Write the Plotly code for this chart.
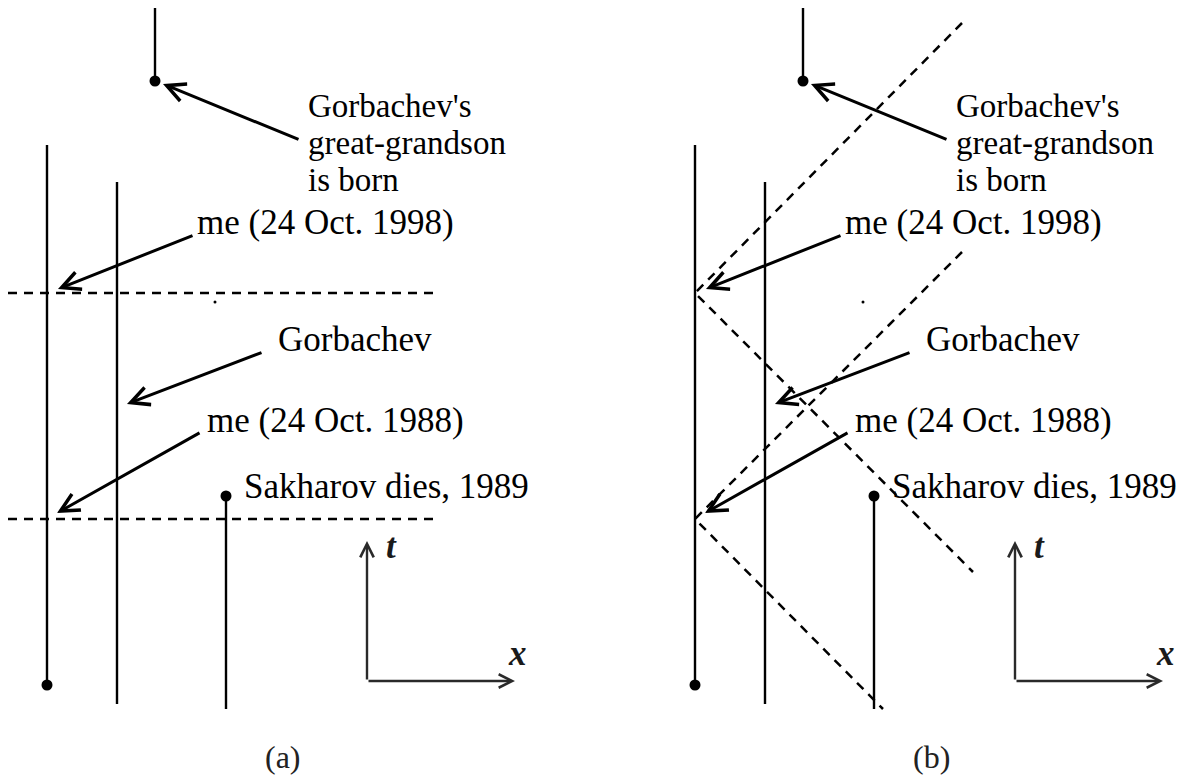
import plotly.graph_objects as go

W, H = 1184, 778
PAGE_PAD = 8  # default page margin around the figure

# ---- data (page units; y grows downward) ----
PANEL_SHIFT = [0, 648]
PANEL_LABELS = ["(a)", "(b)"]
PANEL_LABEL_POS = (283, 757)

# world lines: me, Gorbachev, great-grandson, Sakharov
WL_X = [47, 117, 155, 226]
WL_TOP = [145, 182, 8, 496]
WL_BOTTOM = [685, 704, 81, 709]

# events (dots): my birth, great-grandson born, Sakharov dies
EVENT_X = [47, 155, 226]
EVENT_Y = [685, 81, 496]

# stray speck
SPECK_X, SPECK_Y = 215, 302

# lines of simultaneity in (a)
SIM_Y = [293, 519]
SIM_X = [8, 437]

# light cones in (b): apex (me 1998, me 1988), future end, past end
CONE_APEX_X = [47, 47]
CONE_APEX_Y = [293, 519]
CONE_UP_X = [314, 314]
CONE_UP_Y = [23, 252]
CONE_DOWN_X = [325, 235]
CONE_DOWN_Y = [572, 709]

# labels (left x, baseline y, font size)
LABEL_TEXT = ["Gorbachev's", "great-grandson", "is born", "me (24 Oct. 1998)",
              "Gorbachev", "me (24 Oct. 1988)", "Sakharov dies, 1989"]
LABEL_X = [307, 307, 307, 196, 277, 206, 243]
LABEL_Y = [116, 153, 190, 233, 350, 431, 497]
LABEL_FS = [33, 33, 33, 35, 35, 35, 35]

# pointer arrows: tail -> tip
ARROW_TAIL_X = [300, 194, 263, 201]
ARROW_TAIL_Y = [140, 235, 352, 432]
ARROW_TIP_X = [163, 58, 127, 57]
ARROW_TIP_Y = [84, 289, 404, 513]

# coordinate axes glyph
AX_ORIGIN = (367, 681)
AX_T_TIP = (367, 541)
AX_X_TIP = (515, 681)
AX_T_LABEL = (384, 557)
AX_X_LABEL = (506, 662)

FONT = "Liberation Serif, Times New Roman, serif"
FS = 35

fig = go.Figure()
ann = []

for p, sh in enumerate(PANEL_SHIFT):
    # world lines
    xs, ys = [], []
    for x, t0, t1 in zip(WL_X, WL_TOP, WL_BOTTOM):
        xs += [x + sh, x + sh, None]
        ys += [t0, t1, None]
    fig.add_trace(go.Scatter(x=xs, y=ys, mode="lines",
                             line=dict(color="black", width=2.4), hoverinfo="skip"))
    # events
    fig.add_trace(go.Scatter(x=[x + sh for x in EVENT_X], y=EVENT_Y, mode="markers",
                             marker=dict(color="black", size=11), hoverinfo="skip"))
    fig.add_trace(go.Scatter(x=[SPECK_X + sh], y=[SPECK_Y], mode="markers",
                             marker=dict(color="black", size=3), hoverinfo="skip"))
    # dashed lines
    xs, ys = [], []
    if p == 0:
        for y in SIM_Y:
            xs += [SIM_X[0] + sh, SIM_X[1] + sh, None]
            ys += [y, y, None]
    else:
        for i in range(len(CONE_APEX_X)):
            xs += [CONE_UP_X[i] + sh, CONE_APEX_X[i] + sh, CONE_DOWN_X[i] + sh, None]
            ys += [CONE_UP_Y[i], CONE_APEX_Y[i], CONE_DOWN_Y[i], None]
    fig.add_trace(go.Scatter(x=xs, y=ys, mode="lines",
                             line=dict(color="black", width=2.5, dash="9px,7px"),
                             hoverinfo="skip"))
    # labels
    for txt, x, y, fs in zip(LABEL_TEXT, LABEL_X, LABEL_Y, LABEL_FS):
        ann.append(dict(x=x + sh, y=y - 0.31 * fs, text=txt, showarrow=False,
                        xanchor="left", yanchor="middle", borderpad=0,
                        font=dict(family=FONT, size=fs, color="black")))
    # arrows
    for tx, ty, hx, hy in zip(ARROW_TAIL_X, ARROW_TAIL_Y, ARROW_TIP_X, ARROW_TIP_Y):
        ann.append(dict(x=hx + sh, y=hy, ax=tx + sh, ay=ty, xref="x", yref="y",
                        axref="x", ayref="y", text="", showarrow=True,
                        arrowhead=5, arrowsize=1.2, arrowwidth=3, arrowcolor="black"))
    # axes glyph
    for tip in (AX_T_TIP, AX_X_TIP):
        ann.append(dict(x=tip[0] + sh, y=tip[1], ax=AX_ORIGIN[0] + sh, ay=AX_ORIGIN[1],
                        xref="x", yref="y", axref="x", ayref="y", text="",
                        showarrow=True, arrowhead=5, arrowsize=1.1, arrowwidth=2.4,
                        arrowcolor="#2a2a2a"))
    ann.append(dict(x=AX_T_LABEL[0] + sh, y=AX_T_LABEL[1] - 11, text="<b><i>t</i></b>",
                    showarrow=False, xanchor="left", yanchor="middle",
                    font=dict(family=FONT, size=FS, color="#1a1a1a")))
    ann.append(dict(x=AX_X_LABEL[0] + sh, y=AX_X_LABEL[1] - 9, text="<b><i>x</i></b>",
                    showarrow=False, xanchor="left", yanchor="middle",
                    font=dict(family=FONT, size=FS, color="#1a1a1a")))
    ann.append(dict(x=PANEL_LABEL_POS[0] + sh, y=PANEL_LABEL_POS[1], text=PANEL_LABELS[p],
                    showarrow=False, xanchor="center", yanchor="middle",
                    font=dict(family=FONT, size=FS - 3, color="#222222")))

# the page adds an 8px margin: size the figure to the remaining window
fig.update_layout(
    width=W - PAGE_PAD, height=H - PAGE_PAD, margin=dict(l=0, r=0, t=0, b=0),
    paper_bgcolor="white", plot_bgcolor="white", showlegend=False,
    annotations=ann,
    xaxis=dict(range=[PAGE_PAD, W], visible=False, fixedrange=True),
    yaxis=dict(range=[H, PAGE_PAD], visible=False, fixedrange=True),
)

fig.write_html("out.html")
